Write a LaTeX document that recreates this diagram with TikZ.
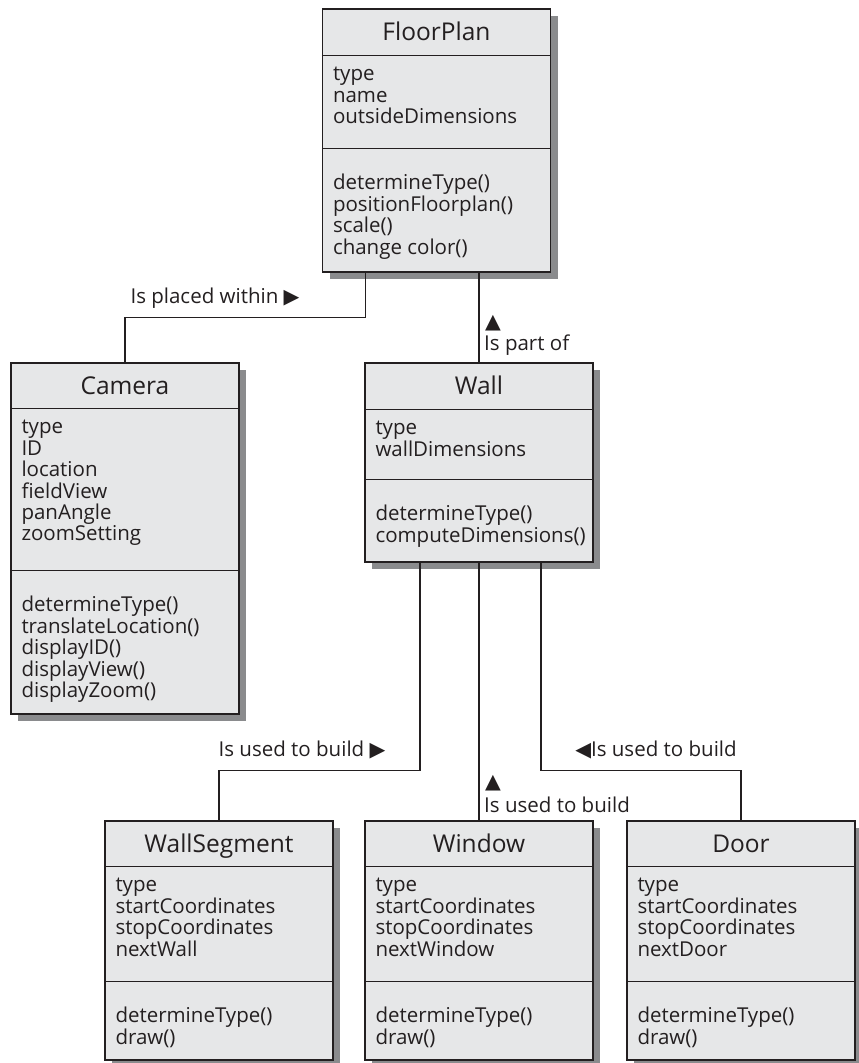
\documentclass[tikz,border=0pt]{standalone}
\usepackage{fontspec}
\setmainfont{Open Sans}
\newfontfamily\symfont{DejaVu Sans}
\usetikzlibrary{positioning,shadows,calc}
\definecolor{classBG}{HTML}{E6E7E8}
\definecolor{classShadow}{HTML}{8A8B8D}
\definecolor{classBorder}{HTML}{231F20}

\begin{document}
\begin{tikzpicture}[x=1pt,y=-1pt,
  classbox/.style={draw=classBorder, line width=1.4pt, fill=classBG, inner sep=0pt, minimum width=228pt,
    drop shadow={shadow xshift=7pt, shadow yshift=-7pt, fill=classShadow, opacity=1}},
  classname/.style={font=\fontsize{24.5}{28}\selectfont, text=classBorder, text height=17.5pt, text depth=0pt, inner sep=0pt},
  % anchored at the baseline of the last line
  members/.style={align=left, anchor=base west, inner sep=0pt, font=\fontsize{20.5}{21.4}\selectfont, text=classBorder},
  divider/.style={draw=classBorder, line width=1pt},
  link/.style={draw=classBorder, line width=1.3pt},
  linklabel/.style={font=\fontsize{20.5}{24}\selectfont, text=classBorder, inner sep=0pt},
]
  \useasboundingbox (0,0) rectangle (859,1063);

  % class boxes
  \node[classbox, minimum height=263pt] (floorplan) at (436.5,140.5) {};
  \node[classbox, minimum height=351pt] (camera) at (125,538.5) {};
  \node[classbox, minimum height=199pt] (wall) at (479,462.5) {};
  \node[classbox, minimum height=239pt] (wallseg) at (219,940.5) {};
  \node[classbox, minimum height=239pt] (window) at (479,940.5) {};
  \node[classbox, minimum height=239pt] (door) at (741,940.5) {};

  % FloorPlan
  \draw[divider] ([yshift=-47pt]floorplan.north west) -- ([yshift=-47pt]floorplan.north east);
  \draw[divider] ([yshift=-140pt]floorplan.north west) -- ([yshift=-140pt]floorplan.north east);
  \node[classname] (floorplanname) at ([yshift=-23.5pt]floorplan.north) {FloorPlan};
  \node[members] (floorplanattr) at ([xshift=11pt,yshift=-115.3pt]floorplan.north west) {type\\name\\outsideDimensions};
  \node[members] (floorplanops) at ([xshift=11pt,yshift=-245.7pt]floorplan.north west) {determineType()\\positionFloorplan()\\scale()\\change color()};

  % Camera
  \draw[divider] ([yshift=-46pt]camera.north west) -- ([yshift=-46pt]camera.north east);
  \draw[divider] ([yshift=-208pt]camera.north west) -- ([yshift=-208pt]camera.north east);
  \node[classname] (cameraname) at ([yshift=-23pt]camera.north) {Camera};
  \node[members] (cameraattr) at ([xshift=11pt,yshift=-178.5pt]camera.north west) {type\\ID\\location\\fieldView\\panAngle\\zoomSetting};
  \node[members] (cameraops) at ([xshift=11pt,yshift=-335.1pt]camera.north west) {determineType()\\translateLocation()\\displayID()\\displayView()\\displayZoom()};

  % Wall
  \draw[divider] ([yshift=-47pt]wall.north west) -- ([yshift=-47pt]wall.north east);
  \draw[divider] ([yshift=-117pt]wall.north west) -- ([yshift=-117pt]wall.north east);
  \node[classname] (wallname) at ([yshift=-23.5pt]wall.north) {Wall};
  \node[members] (wallattr) at ([xshift=11pt,yshift=-93.9pt]wall.north west) {type\\wallDimensions};
  \node[members] (wallops) at ([xshift=11pt,yshift=-179.9pt]wall.north west) {determineType()\\computeDimensions()};

  % WallSegment
  \draw[divider] ([yshift=-46pt]wallseg.north west) -- ([yshift=-46pt]wallseg.north east);
  \draw[divider] ([yshift=-161pt]wallseg.north west) -- ([yshift=-161pt]wallseg.north east);
  \node[classname] (wallsegname) at ([yshift=-23pt]wallseg.north) {WallSegment};
  \node[members] (wallsegattr) at ([xshift=11pt,yshift=-135.7pt]wallseg.north west) {type\\startCoordinates\\stopCoordinates\\nextWall};
  \node[members] (wallsegops) at ([xshift=11pt,yshift=-223.9pt]wallseg.north west) {determineType()\\draw()};

  % Window
  \draw[divider] ([yshift=-46pt]window.north west) -- ([yshift=-46pt]window.north east);
  \draw[divider] ([yshift=-161pt]window.north west) -- ([yshift=-161pt]window.north east);
  \node[classname] (windowname) at ([yshift=-23pt]window.north) {Window};
  \node[members] (windowattr) at ([xshift=11pt,yshift=-135.7pt]window.north west) {type\\startCoordinates\\stopCoordinates\\nextWindow};
  \node[members] (windowops) at ([xshift=11pt,yshift=-223.9pt]window.north west) {determineType()\\draw()};

  % Door
  \draw[divider] ([yshift=-46pt]door.north west) -- ([yshift=-46pt]door.north east);
  \draw[divider] ([yshift=-161pt]door.north west) -- ([yshift=-161pt]door.north east);
  \node[classname] (doorname) at ([yshift=-23pt]door.north) {Door};
  \node[members] (doorattr) at ([xshift=11pt,yshift=-135.7pt]door.north west) {type\\startCoordinates\\stopCoordinates\\nextDoor};
  \node[members] (doorops) at ([xshift=11pt,yshift=-223.9pt]door.north west) {determineType()\\draw()};

  % associations
  \draw[link] ([xshift=44pt]floorplan.south west) -- ++(0,45) -| (camera.north);
  \draw[link] (floorplan.south -| wall.north) -- (wall.north);
  \draw[link] ([xshift=-59pt]wall.south) -- ++(0,208) -| (wallseg.north);
  \draw[link] (wall.south) -- (window.north);
  \draw[link] ([xshift=62pt]wall.south) -- ++(0,208) -| (door.north);

  \node[linklabel] (placedlbl) at (215,298) {Is placed within {\symfont ▶}};
  \node[linklabel] (partofarrow) at (493,323) {\symfont ▲};
  \node[linklabel, anchor=base west] (partoflbl) at (484,350.5) {Is part of};
  \node[linklabel] (buildseglbl) at (302,750) {Is used to build {\symfont ▶}};
  \node[linklabel] (buildwinarrow) at (493,783) {\symfont ▲};
  \node[linklabel, anchor=base west] (buildwinlbl) at (484,812.5) {Is used to build};
  \node[linklabel] (builddoorlbl) at (656,750) {{\symfont ◀}Is used to build};
\end{tikzpicture}
\end{document}
